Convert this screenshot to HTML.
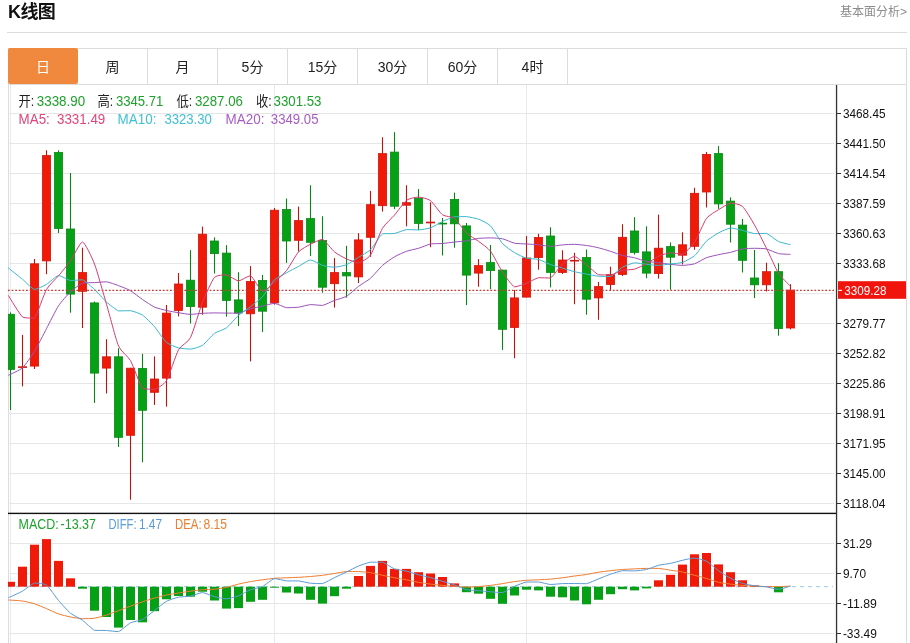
<!DOCTYPE html>
<html lang="zh-CN">
<head>
<meta charset="utf-8">
<title>K线图</title>
<style>
html,body{margin:0;padding:0;background:#fff;}
body{width:910px;height:643px;overflow:hidden;position:relative;font-family:"Liberation Sans","Noto Sans CJK SC",sans-serif;color:#222;}
.title{position:absolute;left:8px;top:0px;font-size:18px;font-weight:bold;line-height:24px;color:#111;letter-spacing:-0.6px;}
.more{position:absolute;right:3px;top:3px;font-size:12px;line-height:18px;color:#8c8c8c;}
.hr{position:absolute;left:7px;top:32px;width:900px;height:1px;background:#dcdcdc;}
.box{position:absolute;left:8px;top:48px;width:897px;height:600px;border:1px solid #dcdcdc;border-bottom:none;}
.tabs{position:absolute;left:8px;top:48px;width:899px;height:36px;border-bottom:1px solid #dcdcdc;box-sizing:content-box;}
.tab{position:absolute;top:0;width:69px;height:37px;line-height:38px;text-align:center;font-size:14px;color:#222;border-right:1px solid #dcdcdc;box-sizing:content-box;}
.tab.act{background:#f0883e;color:#fff;width:70px;height:35.5px;border-right:none;border-radius:2px;}
svg{position:absolute;left:0;top:0;}
</style>
</head>
<body>
<div class="title">K线图</div>
<div class="more">基本面分析&gt;</div>
<div class="hr"></div>
<div class="box"></div>
<div class="tabs"><div class="tab act" style="left:0px">日</div><div class="tab" style="left:70px">周</div><div class="tab" style="left:140px">月</div><div class="tab" style="left:210px">5分</div><div class="tab" style="left:280px">15分</div><div class="tab" style="left:350px">30分</div><div class="tab" style="left:420px">60分</div><div class="tab" style="left:490px">4时</div></div>
<svg width="910" height="643" viewBox="0 0 910 643">
<g stroke="#e6e6e6" stroke-width="1" shape-rendering="crispEdges">
<line x1="8" y1="113.5" x2="834" y2="113.5"/>
<line x1="8" y1="143.5" x2="834" y2="143.5"/>
<line x1="8" y1="173.5" x2="834" y2="173.5"/>
<line x1="8" y1="203.5" x2="834" y2="203.5"/>
<line x1="8" y1="233.5" x2="834" y2="233.5"/>
<line x1="8" y1="263.5" x2="834" y2="263.5"/>
<line x1="8" y1="293.5" x2="834" y2="293.5"/>
<line x1="8" y1="323.5" x2="834" y2="323.5"/>
<line x1="8" y1="353.5" x2="834" y2="353.5"/>
<line x1="8" y1="383.5" x2="834" y2="383.5"/>
<line x1="8" y1="413.5" x2="834" y2="413.5"/>
<line x1="8" y1="443.5" x2="834" y2="443.5"/>
<line x1="8" y1="473.5" x2="834" y2="473.5"/>
<line x1="8" y1="503.5" x2="834" y2="503.5"/>
<line x1="8" y1="543.5" x2="834" y2="543.5"/>
<line x1="8" y1="573.5" x2="834" y2="573.5"/>
<line x1="8" y1="603.5" x2="834" y2="603.5"/>
<line x1="8" y1="633.5" x2="834" y2="633.5"/>
</g>
<g stroke="#e4eaf1" stroke-width="1" shape-rendering="crispEdges">
<line x1="10.5" y1="85" x2="10.5" y2="643"/>
<line x1="274.5" y1="85" x2="274.5" y2="643"/>
<line x1="526.5" y1="85" x2="526.5" y2="643"/>
</g>
<line x1="10.5" y1="312.4" x2="10.5" y2="410" stroke="#0a8214" stroke-width="1.1"/>
<rect x="8.4" y="314.3" width="6.2" height="55.1" fill="#06a016" stroke="#088c12" stroke-width="0.8"/>
<line x1="22.5" y1="334.9" x2="22.5" y2="386.4" stroke="#b81410" stroke-width="1.1"/>
<rect x="18" y="366.3" width="9" height="1.6" fill="#d4160c"/>
<line x1="34.5" y1="259" x2="34.5" y2="369" stroke="#b81410" stroke-width="1.1"/>
<rect x="30.4" y="263.8" width="8.2" height="102.3" fill="#f01a08" stroke="#d4160c" stroke-width="0.8"/>
<line x1="46.5" y1="150.3" x2="46.5" y2="274.2" stroke="#b81410" stroke-width="1.1"/>
<rect x="42.4" y="155.6" width="8.2" height="105.3" fill="#f01a08" stroke="#d4160c" stroke-width="0.8"/>
<line x1="58.5" y1="150.3" x2="58.5" y2="233" stroke="#0a8214" stroke-width="1.1"/>
<rect x="54.4" y="152.4" width="8.2" height="76.2" fill="#06a016" stroke="#088c12" stroke-width="0.8"/>
<line x1="70.5" y1="173" x2="70.5" y2="312.7" stroke="#0a8214" stroke-width="1.1"/>
<rect x="66.4" y="229" width="8.2" height="65.1" fill="#06a016" stroke="#088c12" stroke-width="0.8"/>
<line x1="82.5" y1="247.7" x2="82.5" y2="328" stroke="#b81410" stroke-width="1.1"/>
<rect x="78.4" y="272.6" width="8.2" height="18.7" fill="#f01a08" stroke="#d4160c" stroke-width="0.8"/>
<line x1="94.5" y1="301.5" x2="94.5" y2="402.9" stroke="#0a8214" stroke-width="1.1"/>
<rect x="90.4" y="302.9" width="8.2" height="70.2" fill="#06a016" stroke="#088c12" stroke-width="0.8"/>
<line x1="106.5" y1="339.2" x2="106.5" y2="393.5" stroke="#b81410" stroke-width="1.1"/>
<rect x="102.4" y="356.8" width="8.2" height="11.3" fill="#f01a08" stroke="#d4160c" stroke-width="0.8"/>
<line x1="118.5" y1="348.3" x2="118.5" y2="447" stroke="#0a8214" stroke-width="1.1"/>
<rect x="114.4" y="356.8" width="8.2" height="80.5" fill="#06a016" stroke="#088c12" stroke-width="0.8"/>
<line x1="130.5" y1="367.8" x2="130.5" y2="499.7" stroke="#b81410" stroke-width="1.1"/>
<rect x="126.4" y="368.2" width="8.2" height="67.1" fill="#f01a08" stroke="#d4160c" stroke-width="0.8"/>
<line x1="142.5" y1="353.9" x2="142.5" y2="462.3" stroke="#0a8214" stroke-width="1.1"/>
<rect x="138.4" y="368.4" width="8.2" height="41.9" fill="#06a016" stroke="#088c12" stroke-width="0.8"/>
<line x1="154.5" y1="356.4" x2="154.5" y2="404.9" stroke="#b81410" stroke-width="1.1"/>
<rect x="150.4" y="379" width="8.2" height="13.3" fill="#f01a08" stroke="#d4160c" stroke-width="0.8"/>
<line x1="166.5" y1="305" x2="166.5" y2="406.6" stroke="#b81410" stroke-width="1.1"/>
<rect x="162.4" y="313.1" width="8.2" height="65" fill="#f01a08" stroke="#d4160c" stroke-width="0.8"/>
<line x1="178.5" y1="273" x2="178.5" y2="316.4" stroke="#b81410" stroke-width="1.1"/>
<rect x="174.4" y="284" width="8.2" height="26.5" fill="#f01a08" stroke="#d4160c" stroke-width="0.8"/>
<line x1="190.5" y1="250.2" x2="190.5" y2="323.5" stroke="#0a8214" stroke-width="1.1"/>
<rect x="186.4" y="280.2" width="8.2" height="26.4" fill="#06a016" stroke="#088c12" stroke-width="0.8"/>
<line x1="202.5" y1="226.6" x2="202.5" y2="314.7" stroke="#b81410" stroke-width="1.1"/>
<rect x="198.4" y="234.2" width="8.2" height="73" fill="#f01a08" stroke="#d4160c" stroke-width="0.8"/>
<line x1="214.5" y1="237.4" x2="214.5" y2="273.5" stroke="#0a8214" stroke-width="1.1"/>
<rect x="210.4" y="241" width="8.2" height="12.6" fill="#06a016" stroke="#088c12" stroke-width="0.8"/>
<line x1="226.5" y1="245.2" x2="226.5" y2="316.7" stroke="#0a8214" stroke-width="1.1"/>
<rect x="222.4" y="253.1" width="8.2" height="47.3" fill="#06a016" stroke="#088c12" stroke-width="0.8"/>
<line x1="238.5" y1="272.2" x2="238.5" y2="326.1" stroke="#0a8214" stroke-width="1.1"/>
<rect x="234.4" y="299.9" width="8.2" height="13.1" fill="#06a016" stroke="#088c12" stroke-width="0.8"/>
<line x1="250.5" y1="266.1" x2="250.5" y2="361.4" stroke="#b81410" stroke-width="1.1"/>
<rect x="246.4" y="281.5" width="8.2" height="32.3" fill="#f01a08" stroke="#d4160c" stroke-width="0.8"/>
<line x1="262.5" y1="275" x2="262.5" y2="331.9" stroke="#0a8214" stroke-width="1.1"/>
<rect x="258.4" y="280.4" width="8.2" height="30.8" fill="#06a016" stroke="#088c12" stroke-width="0.8"/>
<line x1="274.5" y1="208" x2="274.5" y2="304.6" stroke="#b81410" stroke-width="1.1"/>
<rect x="270.4" y="210.2" width="8.2" height="92.7" fill="#f01a08" stroke="#d4160c" stroke-width="0.8"/>
<line x1="286.5" y1="198.5" x2="286.5" y2="262.9" stroke="#0a8214" stroke-width="1.1"/>
<rect x="282.4" y="209.5" width="8.2" height="31.5" fill="#06a016" stroke="#088c12" stroke-width="0.8"/>
<line x1="298.5" y1="206.6" x2="298.5" y2="251.6" stroke="#b81410" stroke-width="1.1"/>
<rect x="294.4" y="220.6" width="8.2" height="19.7" fill="#f01a08" stroke="#d4160c" stroke-width="0.8"/>
<line x1="310.5" y1="185.3" x2="310.5" y2="256.1" stroke="#0a8214" stroke-width="1.1"/>
<rect x="306.4" y="218.6" width="8.2" height="23.7" fill="#06a016" stroke="#088c12" stroke-width="0.8"/>
<line x1="322.5" y1="216.2" x2="322.5" y2="292.7" stroke="#0a8214" stroke-width="1.1"/>
<rect x="318.4" y="240.5" width="8.2" height="46.7" fill="#06a016" stroke="#088c12" stroke-width="0.8"/>
<line x1="334.5" y1="258.1" x2="334.5" y2="307.6" stroke="#b81410" stroke-width="1.1"/>
<rect x="330.4" y="272.6" width="8.2" height="11.1" fill="#f01a08" stroke="#d4160c" stroke-width="0.8"/>
<line x1="346.5" y1="245.8" x2="346.5" y2="297.7" stroke="#0a8214" stroke-width="1.1"/>
<rect x="342.4" y="272.6" width="8.2" height="3.3" fill="#06a016" stroke="#088c12" stroke-width="0.8"/>
<line x1="358.5" y1="233.2" x2="358.5" y2="283.1" stroke="#b81410" stroke-width="1.1"/>
<rect x="354.4" y="239.9" width="8.2" height="37" fill="#f01a08" stroke="#d4160c" stroke-width="0.8"/>
<line x1="370.5" y1="190.9" x2="370.5" y2="256.8" stroke="#b81410" stroke-width="1.1"/>
<rect x="366.4" y="204.7" width="8.2" height="32.6" fill="#f01a08" stroke="#d4160c" stroke-width="0.8"/>
<line x1="382.5" y1="137.3" x2="382.5" y2="211.6" stroke="#b81410" stroke-width="1.1"/>
<rect x="378.4" y="153.6" width="8.2" height="52.1" fill="#f01a08" stroke="#d4160c" stroke-width="0.8"/>
<line x1="394.5" y1="132.2" x2="394.5" y2="209.1" stroke="#0a8214" stroke-width="1.1"/>
<rect x="390.4" y="152.1" width="8.2" height="54.1" fill="#06a016" stroke="#088c12" stroke-width="0.8"/>
<line x1="406.5" y1="185.3" x2="406.5" y2="226.3" stroke="#b81410" stroke-width="1.1"/>
<rect x="402.4" y="202.7" width="8.2" height="2.5" fill="#f01a08" stroke="#d4160c" stroke-width="0.8"/>
<line x1="418.5" y1="189.1" x2="418.5" y2="230.1" stroke="#0a8214" stroke-width="1.1"/>
<rect x="414.4" y="198.4" width="8.2" height="25" fill="#06a016" stroke="#088c12" stroke-width="0.8"/>
<line x1="430.5" y1="202.3" x2="430.5" y2="247.2" stroke="#b81410" stroke-width="1.1"/>
<rect x="426" y="221.7" width="9" height="1.6" fill="#d4160c"/>
<line x1="442.5" y1="218" x2="442.5" y2="255.5" stroke="#0a8214" stroke-width="1.1"/>
<rect x="438" y="222.8" width="9" height="1.6" fill="#088c12"/>
<line x1="454.5" y1="192.6" x2="454.5" y2="247.7" stroke="#0a8214" stroke-width="1.1"/>
<rect x="450.4" y="199.4" width="8.2" height="24.4" fill="#06a016" stroke="#088c12" stroke-width="0.8"/>
<line x1="466.5" y1="223" x2="466.5" y2="305.1" stroke="#0a8214" stroke-width="1.1"/>
<rect x="462.4" y="225.9" width="8.2" height="49.2" fill="#06a016" stroke="#088c12" stroke-width="0.8"/>
<line x1="478.5" y1="259.1" x2="478.5" y2="286.7" stroke="#b81410" stroke-width="1.1"/>
<rect x="474.4" y="265.6" width="8.2" height="7.5" fill="#f01a08" stroke="#d4160c" stroke-width="0.8"/>
<line x1="490.5" y1="245" x2="490.5" y2="289.2" stroke="#0a8214" stroke-width="1.1"/>
<rect x="486.4" y="262.6" width="8.2" height="8" fill="#06a016" stroke="#088c12" stroke-width="0.8"/>
<line x1="502.5" y1="269.7" x2="502.5" y2="349.9" stroke="#0a8214" stroke-width="1.1"/>
<rect x="498.4" y="270.1" width="8.2" height="59.2" fill="#06a016" stroke="#088c12" stroke-width="0.8"/>
<line x1="514.5" y1="290" x2="514.5" y2="358.2" stroke="#b81410" stroke-width="1.1"/>
<rect x="510.4" y="297.9" width="8.2" height="29.6" fill="#f01a08" stroke="#d4160c" stroke-width="0.8"/>
<line x1="526.5" y1="236.1" x2="526.5" y2="297.5" stroke="#b81410" stroke-width="1.1"/>
<rect x="522.4" y="258" width="8.2" height="39.1" fill="#f01a08" stroke="#d4160c" stroke-width="0.8"/>
<line x1="538.5" y1="233.8" x2="538.5" y2="269.7" stroke="#b81410" stroke-width="1.1"/>
<rect x="534.4" y="237.5" width="8.2" height="20" fill="#f01a08" stroke="#d4160c" stroke-width="0.8"/>
<line x1="550.5" y1="227.3" x2="550.5" y2="287.4" stroke="#0a8214" stroke-width="1.1"/>
<rect x="546.4" y="236" width="8.2" height="36.4" fill="#06a016" stroke="#088c12" stroke-width="0.8"/>
<line x1="562.5" y1="250.3" x2="562.5" y2="274" stroke="#b81410" stroke-width="1.1"/>
<rect x="558.4" y="260" width="8.2" height="12.4" fill="#f01a08" stroke="#d4160c" stroke-width="0.8"/>
<line x1="574.5" y1="252.8" x2="574.5" y2="304.2" stroke="#b81410" stroke-width="1.1"/>
<rect x="570" y="259.9" width="9" height="1.6" fill="#d4160c"/>
<line x1="586.5" y1="249.5" x2="586.5" y2="314.7" stroke="#0a8214" stroke-width="1.1"/>
<rect x="582.4" y="257.5" width="8.2" height="41.7" fill="#06a016" stroke="#088c12" stroke-width="0.8"/>
<line x1="598.5" y1="281.9" x2="598.5" y2="319.8" stroke="#b81410" stroke-width="1.1"/>
<rect x="594.4" y="286.6" width="8.2" height="11.3" fill="#f01a08" stroke="#d4160c" stroke-width="0.8"/>
<line x1="610.5" y1="266.7" x2="610.5" y2="290.5" stroke="#b81410" stroke-width="1.1"/>
<rect x="606.4" y="274.7" width="8.2" height="9.8" fill="#f01a08" stroke="#d4160c" stroke-width="0.8"/>
<line x1="622.5" y1="224.2" x2="622.5" y2="276" stroke="#b81410" stroke-width="1.1"/>
<rect x="618.4" y="237.3" width="8.2" height="37.1" fill="#f01a08" stroke="#d4160c" stroke-width="0.8"/>
<line x1="634.5" y1="217.2" x2="634.5" y2="254.6" stroke="#0a8214" stroke-width="1.1"/>
<rect x="630.4" y="231" width="8.2" height="21.4" fill="#06a016" stroke="#088c12" stroke-width="0.8"/>
<line x1="646.5" y1="226.3" x2="646.5" y2="278.1" stroke="#0a8214" stroke-width="1.1"/>
<rect x="642.4" y="251.9" width="8.2" height="21.2" fill="#06a016" stroke="#088c12" stroke-width="0.8"/>
<line x1="658.5" y1="214.6" x2="658.5" y2="278.6" stroke="#b81410" stroke-width="1.1"/>
<rect x="654.4" y="248.2" width="8.2" height="25.4" fill="#f01a08" stroke="#d4160c" stroke-width="0.8"/>
<line x1="670.5" y1="242.4" x2="670.5" y2="289.7" stroke="#0a8214" stroke-width="1.1"/>
<rect x="666.4" y="246.6" width="8.2" height="10.6" fill="#06a016" stroke="#088c12" stroke-width="0.8"/>
<line x1="682.5" y1="232.3" x2="682.5" y2="264.5" stroke="#b81410" stroke-width="1.1"/>
<rect x="678.4" y="244.8" width="8.2" height="10.4" fill="#f01a08" stroke="#d4160c" stroke-width="0.8"/>
<line x1="694.5" y1="187.8" x2="694.5" y2="249.8" stroke="#b81410" stroke-width="1.1"/>
<rect x="690.4" y="193.3" width="8.2" height="53" fill="#f01a08" stroke="#d4160c" stroke-width="0.8"/>
<line x1="706.5" y1="151.9" x2="706.5" y2="207.5" stroke="#b81410" stroke-width="1.1"/>
<rect x="702.4" y="154.4" width="8.2" height="37.6" fill="#f01a08" stroke="#d4160c" stroke-width="0.8"/>
<line x1="718.5" y1="146.1" x2="718.5" y2="208.8" stroke="#0a8214" stroke-width="1.1"/>
<rect x="714.4" y="153.6" width="8.2" height="50.3" fill="#06a016" stroke="#088c12" stroke-width="0.8"/>
<line x1="730.5" y1="197.4" x2="730.5" y2="242.5" stroke="#0a8214" stroke-width="1.1"/>
<rect x="726.4" y="201.1" width="8.2" height="23.1" fill="#06a016" stroke="#088c12" stroke-width="0.8"/>
<line x1="742.5" y1="219" x2="742.5" y2="272.5" stroke="#0a8214" stroke-width="1.1"/>
<rect x="738.4" y="225.1" width="8.2" height="35.2" fill="#06a016" stroke="#088c12" stroke-width="0.8"/>
<line x1="754.5" y1="250" x2="754.5" y2="298.1" stroke="#0a8214" stroke-width="1.1"/>
<rect x="750.4" y="278" width="8.2" height="6.8" fill="#06a016" stroke="#088c12" stroke-width="0.8"/>
<line x1="766.5" y1="262.7" x2="766.5" y2="291.5" stroke="#b81410" stroke-width="1.1"/>
<rect x="762.4" y="271.7" width="8.2" height="13.1" fill="#f01a08" stroke="#d4160c" stroke-width="0.8"/>
<line x1="778.5" y1="263.2" x2="778.5" y2="335.7" stroke="#0a8214" stroke-width="1.1"/>
<rect x="774.4" y="271.7" width="8.2" height="56.8" fill="#06a016" stroke="#088c12" stroke-width="0.8"/>
<line x1="790.5" y1="284.2" x2="790.5" y2="329.4" stroke="#b81410" stroke-width="1.1"/>
<rect x="786.4" y="290.1" width="8.2" height="37.9" fill="#f01a08" stroke="#d4160c" stroke-width="0.8"/>
<line x1="8" y1="290.4" x2="834" y2="290.4" stroke="#c83a30" stroke-width="1.1" stroke-dasharray="1.8 1.8"/>
<path d="M8.3 375.3C9.7 374.6 19.9 370.2 22.5 367.8C25.1 365.4 32.1 355.2 34.5 351.3C36.9 347.4 44.1 333.2 46.5 328.6C48.9 324.1 56.1 309.5 58.5 305.8C60.9 302.1 68.1 294.2 70.5 291.9C72.9 289.6 80.1 284 82.5 283.1C84.9 282.6 92.1 282.7 94.5 282.6C96.9 282.5 104.1 281.8 106.5 281.8C108.9 282.1 116.1 284.7 118.5 285.6C120.9 286.5 128.1 289.3 130.5 290.7C132.9 292.1 140.1 297.9 142.5 299.5C144.9 301.1 152.1 306 154.5 307.1C156.9 308.2 164.1 309.9 166.5 310.5C168.9 311.1 176.1 312.3 178.5 312.7C180.9 313.1 188.1 314.3 190.5 314.4C192.9 314.4 200.1 313.4 202.5 313.3C204.9 313.2 212.1 312.9 214.5 312.9C216.9 312.9 224.1 313.1 226.5 313.1C228.9 313.1 236.1 313.2 238.5 313.2C240.9 312.8 248.1 309.5 250.5 308.8C252.9 308.1 260.1 306.6 262.5 306.1C264.9 305.5 272.1 303.4 274.5 303.4C276.9 303.5 284.1 307.3 286.5 307.7C288.9 307.7 296.1 307.5 298.5 307.2C300.9 306.9 308.1 304.8 310.5 304.6C312.9 304.6 320.1 305.4 322.5 305.4C324.9 305 332.1 301.3 334.5 300.4C336.9 299.4 344.1 297.7 346.5 296.3C348.9 295 356.1 288.2 358.5 286.4C360.9 284.6 368.1 280.4 370.5 278.3C372.9 276.2 380.1 267.5 382.5 265.4C384.9 263.2 392.1 258.2 394.5 256.8C396.9 255.4 404.1 252.1 406.5 251.3C408.9 250.4 416.1 249 418.5 248.3C420.9 247.6 428.1 244.5 430.5 244C432.9 243.5 440.1 243.7 442.5 243.5C444.9 243.3 452.1 242.3 454.5 242C456.9 241.8 464.1 241.2 466.5 240.8C468.9 240.4 476.1 238.7 478.5 238.4C480.9 238.1 488.1 237.9 490.5 237.9C492.9 237.9 500.1 238.2 502.5 238.8C504.9 239.3 512.1 242.6 514.5 243.2C516.9 243.7 524.1 243.8 526.5 244C528.9 244.1 536.1 244.6 538.5 244.8C540.9 245.1 548.1 246.3 550.5 246.3C552.9 246.3 560.1 245.1 562.5 244.9C564.9 244.7 572.1 244.3 574.5 244.3C576.9 244.4 584.1 245.1 586.5 245.5C588.9 245.8 596.1 247.2 598.5 247.8C600.9 248.4 608.1 250.5 610.5 251.3C612.9 252.1 620.1 254.8 622.5 255.5C624.9 256.1 632.1 257.2 634.5 257.8C636.9 258.4 644.1 260.9 646.5 261.4C648.9 261.8 656.1 262.3 658.5 262.6C660.9 262.9 668.1 264.1 670.5 264.4C672.9 264.6 680.1 265.4 682.5 265.4C684.9 265.3 692.1 264.6 694.5 263.8C696.9 263 704.1 258.6 706.5 257.7C708.9 256.8 716.1 255.2 718.5 254.7C720.9 254.1 728.1 252.9 730.5 252.4C732.9 251.8 740.1 249.3 742.5 248.9C744.9 248.5 752.1 248.3 754.5 248.3C756.9 248.3 764.1 248.4 766.5 249C768.9 249.5 776.1 253 778.5 253.6C780.9 254.1 789.3 254.3 790.5 254.4" fill="none" stroke="#9a52ba" stroke-width="1" stroke-linejoin="round"/>
<path d="M8.3 267.9C9.7 269 19.9 277.2 22.5 279.3C25.1 281.4 32.1 288.9 34.5 289.4C36.9 289.4 44.1 285.7 46.5 284.3C48.9 282.9 56.1 275.9 58.5 275.5C60.9 275.5 68.1 280.2 70.5 280.6C72.9 280.6 80.1 279.8 82.5 279.8C84.9 280.7 92.1 287.2 94.5 289.4C96.9 291.6 104.1 299.9 106.5 302C108.9 304.1 116.1 310 118.5 310.9C120.9 310.9 128.1 310.7 130.5 310.7C132.9 311.1 140.1 313.5 142.5 315.1C144.9 316.7 152.1 323.9 154.5 326.7C156.9 329.4 164.1 340.3 166.5 342.4C168.9 344.5 176.1 347.2 178.5 347.9C180.9 348.5 188.1 349.1 190.5 349.1C192.9 348.9 200.1 346.9 202.5 345.3C204.9 343.7 212.1 335.1 214.5 333.3C216.9 331.6 224.1 329.6 226.5 327.8C228.9 326 236.1 317.5 238.5 315.3C240.9 313.2 248.1 308.5 250.5 306.7C252.9 304.8 260.1 299.4 262.5 296.8C264.9 294.1 272.1 282.3 274.5 279.9C276.9 277.5 284.1 274.1 286.5 272.8C288.9 271.4 296.1 267.7 298.5 266.4C300.9 265.1 308.1 260.1 310.5 260C312.9 260 320.1 264.6 322.5 265.4C324.9 266.1 332.1 267.2 334.5 267.2C336.9 267.1 344.1 265.7 346.5 264.7C348.9 263.7 356.1 258.8 358.5 257.3C360.9 255.8 368.1 252 370.5 249.7C372.9 247.3 380.1 235.4 382.5 233.8C384.9 233.5 392.1 233.8 394.5 233.5C396.9 233.1 404.1 229.9 406.5 229.6C408.9 229.6 416.1 229.9 418.5 229.9C420.9 229.8 428.1 228.7 430.5 227.8C432.9 227 440.1 222.6 442.5 221.5C444.9 220.4 452.1 217.2 454.5 216.7C456.9 216.6 464.1 216.6 466.5 216.6C468.9 216.9 476.1 218.3 478.5 219.2C480.9 220.1 488.1 223.4 490.5 225.9C492.9 228.3 500.1 240.9 502.5 243.5C504.9 246.2 512.1 251.2 514.5 252.6C516.9 254.1 524.1 257.5 526.5 258.2C528.9 258.8 536.1 258.8 538.5 259.5C540.9 260.1 548.1 263.7 550.5 264.6C552.9 265.5 560.1 267.4 562.5 268.1C564.9 268.8 572.1 271.1 574.5 271.7C576.9 272.3 584.1 273.6 586.5 274.1C588.9 274.6 596.1 276 598.5 276.2C600.9 276.4 608.1 276.5 610.5 276.5C612.9 275.6 620.1 268.6 622.5 267.2C624.9 265.9 632.1 263.1 634.5 262.8C636.9 262.8 644.1 264.1 646.5 264.4C648.9 264.6 656.1 265.4 658.5 265.4C660.9 265.4 668.1 264.2 670.5 263.9C672.9 263.6 680.1 263.2 682.5 262.4C684.9 261.6 692.1 257.8 694.5 255.7C696.9 253.6 704.1 243.4 706.5 241.1C708.9 238.9 716.1 234.3 718.5 232.9C720.9 231.6 728.1 228.2 730.5 228C732.9 228 740.1 229.8 742.5 230.4C744.9 230.9 752.1 233.3 754.5 233.6C756.9 233.6 764.1 233.4 766.5 233.4C768.9 234.2 776.1 240.4 778.5 241.5C780.9 242.6 789.3 244.4 790.5 244.7" fill="none" stroke="#3ab9cd" stroke-width="1" stroke-linejoin="round"/>
<path d="M8.3 295.4C9.7 297.6 19.9 314.7 22.5 317C25.1 318.2 32.1 318.2 34.5 318.2C36.9 315.4 44.1 293.6 46.5 289.4C48.9 285.2 56.1 278.7 58.5 275.8C60.9 273 68.1 264.2 70.5 260.8C72.9 257.4 80.1 242 82.5 242C84.9 242.3 92.1 257.8 94.5 264C96.9 270.2 104.1 296 106.5 304.2C108.9 312.4 116.1 340.3 118.5 346C120.9 351.6 128.1 356.4 130.5 360.6C132.9 364.9 140.1 385.4 142.5 388.3C144.9 389.3 152.1 389.3 154.5 389.3C156.9 388.6 164.1 384.6 166.5 380.6C168.9 376.6 176.1 354.1 178.5 349.8C180.9 345.5 188.1 342.4 190.5 337.6C192.9 332.9 200.1 308.3 202.5 302.2C204.9 296.2 212.1 280.1 214.5 277.3C216.9 274.9 224.1 274.9 226.5 274.9C228.9 275.3 236.1 280.8 238.5 280.9C240.9 280.9 248.1 275.7 250.5 275.7C252.9 276.8 260.1 290.6 262.5 291.3C264.9 291.3 272.1 284.5 274.5 282.4C276.9 280.4 284.1 273.6 286.5 270.6C288.9 267.5 296.1 254.6 298.5 251.9C300.9 249.3 308.1 245.5 310.5 244.2C312.9 243 320.1 239.4 322.5 239.4C324.9 240.2 332.1 250 334.5 251.9C336.9 253.9 344.1 257.8 346.5 258.9C348.9 260 356.1 262.8 358.5 262.8C360.9 262.4 368.1 258.5 370.5 255.1C372.9 251.6 380.1 232.2 382.5 228.2C384.9 224.2 392.1 217.9 394.5 215.1C396.9 212.3 404.1 202.1 406.5 200.3C408.9 198.5 416.1 197.1 418.5 197.1C420.9 197.2 428.1 198.8 430.5 200.6C432.9 202.4 440.1 213.1 442.5 214.8C444.9 216.6 452.1 216.5 454.5 218.4C456.9 220.2 464.1 230.7 466.5 233C468.9 235.3 476.1 239.5 478.5 241.3C480.9 243.1 488.1 248 490.5 251.1C492.9 254.2 500.1 268.6 502.5 272.2C504.9 275.8 512.1 285.8 514.5 286.9C516.9 286.9 524.1 284.2 526.5 283.3C528.9 282.4 536.1 278.2 538.5 277.7C540.9 277.7 548.1 278 550.5 278C552.9 276.7 560.1 266.2 562.5 264C564.9 261.9 572.1 256.5 574.5 256.5C576.9 256.6 584.1 263.1 586.5 264.9C588.9 266.7 596.1 273.7 598.5 274.7C600.9 275 608.1 275 610.5 275C612.9 274.6 620.1 271.1 622.5 270.5C624.9 269.9 632.1 269.7 634.5 269.1C636.9 268.4 644.1 265.1 646.5 263.8C648.9 262.6 656.1 257.3 658.5 256.2C660.9 255.1 668.1 253 670.5 252.8C672.9 252.8 680.1 254.3 682.5 254.3C684.9 253.3 692.1 245.9 694.5 242.3C696.9 238.8 704.1 221.7 706.5 218.4C708.9 215.2 716.1 211.3 718.5 209.7C720.9 208.2 728.1 203.5 730.5 203.1C732.9 203.1 740.1 204.2 742.5 206.4C744.9 208.6 752.1 220.7 754.5 224.9C756.9 229.1 764.1 243.5 766.5 248.3C768.9 253.2 776.1 269.4 778.5 273.2C780.9 277 789.3 285 790.5 286.3" fill="none" stroke="#d63c74" stroke-width="1" stroke-linejoin="round"/>
<line x1="8" y1="586.7" x2="833" y2="586.7" stroke="#9ccbe0" stroke-width="1" stroke-dasharray="4 4"/>
<rect x="8" y="581.8" width="7" height="4.9" fill="#f01a08"/>
<rect x="18" y="566.7" width="9" height="20" fill="#f01a08"/>
<rect x="30" y="544.7" width="9" height="42" fill="#f01a08"/>
<rect x="42" y="539.1" width="9" height="47.6" fill="#f01a08"/>
<rect x="54" y="560.9" width="9" height="25.8" fill="#f01a08"/>
<rect x="66" y="578.3" width="9" height="8.4" fill="#f01a08"/>
<rect x="78" y="586.7" width="9" height="2" fill="#06a016"/>
<rect x="90" y="586.7" width="9" height="24" fill="#06a016"/>
<rect x="102" y="586.7" width="9" height="30.3" fill="#06a016"/>
<rect x="114" y="586.7" width="9" height="40.9" fill="#06a016"/>
<rect x="126" y="586.7" width="9" height="33.3" fill="#06a016"/>
<rect x="138" y="586.7" width="9" height="35.6" fill="#06a016"/>
<rect x="150" y="586.7" width="9" height="24.5" fill="#06a016"/>
<rect x="162" y="586.7" width="9" height="12.6" fill="#06a016"/>
<rect x="174" y="586.7" width="9" height="9.3" fill="#06a016"/>
<rect x="186" y="586.7" width="9" height="10" fill="#06a016"/>
<rect x="198" y="586.7" width="9" height="5" fill="#06a016"/>
<rect x="210" y="586.7" width="9" height="13.8" fill="#06a016"/>
<rect x="222" y="586.7" width="9" height="21.9" fill="#06a016"/>
<rect x="234" y="586.7" width="9" height="21.4" fill="#06a016"/>
<rect x="246" y="586.7" width="9" height="15.1" fill="#06a016"/>
<rect x="258" y="586.7" width="9" height="13.1" fill="#06a016"/>
<rect x="270" y="586.7" width="9" height="1" fill="#06a016"/>
<rect x="282" y="586.7" width="9" height="5.8" fill="#06a016"/>
<rect x="294" y="586.7" width="9" height="6.8" fill="#06a016"/>
<rect x="306" y="586.7" width="9" height="13.1" fill="#06a016"/>
<rect x="318" y="586.7" width="9" height="16.9" fill="#06a016"/>
<rect x="330" y="586.7" width="9" height="9.5" fill="#06a016"/>
<rect x="342" y="586.7" width="9" height="2" fill="#06a016"/>
<rect x="354" y="576" width="9" height="10.7" fill="#f01a08"/>
<rect x="366" y="565.9" width="9" height="20.8" fill="#f01a08"/>
<rect x="378" y="560.9" width="9" height="25.8" fill="#f01a08"/>
<rect x="390" y="568.9" width="9" height="17.8" fill="#f01a08"/>
<rect x="402" y="568.9" width="9" height="17.8" fill="#f01a08"/>
<rect x="414" y="572.2" width="9" height="14.5" fill="#f01a08"/>
<rect x="426" y="573.5" width="9" height="13.2" fill="#f01a08"/>
<rect x="438" y="577" width="9" height="9.7" fill="#f01a08"/>
<rect x="450" y="583.4" width="9" height="3.3" fill="#f01a08"/>
<rect x="462" y="586.7" width="9" height="5.5" fill="#06a016"/>
<rect x="474" y="586.7" width="9" height="7" fill="#06a016"/>
<rect x="486" y="586.7" width="9" height="12.1" fill="#06a016"/>
<rect x="498" y="586.7" width="9" height="17.1" fill="#06a016"/>
<rect x="510" y="586.7" width="9" height="8.8" fill="#06a016"/>
<rect x="522" y="586.7" width="9" height="3" fill="#06a016"/>
<rect x="534" y="586.7" width="9" height="3.7" fill="#06a016"/>
<rect x="546" y="586.7" width="9" height="10" fill="#06a016"/>
<rect x="558" y="586.7" width="9" height="10.6" fill="#06a016"/>
<rect x="570" y="586.7" width="9" height="13.8" fill="#06a016"/>
<rect x="582" y="586.7" width="9" height="17.6" fill="#06a016"/>
<rect x="594" y="586.7" width="9" height="13.1" fill="#06a016"/>
<rect x="606" y="586.7" width="9" height="7.5" fill="#06a016"/>
<rect x="618" y="586.7" width="9" height="2.5" fill="#06a016"/>
<rect x="630" y="586.7" width="9" height="3.7" fill="#06a016"/>
<rect x="642" y="586.7" width="9" height="1.7" fill="#06a016"/>
<rect x="654" y="580.3" width="9" height="6.4" fill="#f01a08"/>
<rect x="666" y="574.8" width="9" height="11.9" fill="#f01a08"/>
<rect x="678" y="564.6" width="9" height="22.1" fill="#f01a08"/>
<rect x="690" y="554.3" width="9" height="32.4" fill="#f01a08"/>
<rect x="702" y="553" width="9" height="33.7" fill="#f01a08"/>
<rect x="714" y="564.4" width="9" height="22.3" fill="#f01a08"/>
<rect x="726" y="572.2" width="9" height="14.5" fill="#f01a08"/>
<rect x="738" y="580.3" width="9" height="6.4" fill="#f01a08"/>
<rect x="750" y="585.4" width="9" height="1.3" fill="#f01a08"/>
<rect x="762" y="586.2" width="9" height="0.5" fill="#f01a08"/>
<rect x="774" y="586.7" width="9" height="5.6" fill="#06a016"/>
<path d="M8.3 600C9.7 600.1 19.9 600.6 22.5 601C25.1 601.4 32.1 603 34.5 603.8C36.9 604.6 44.1 607.6 46.5 608.6C48.9 609.6 56.1 613.1 58.5 613.9C60.9 614.7 68.1 616.5 70.5 617C72.9 617.5 80.1 618.6 82.5 618.7C84.9 618.7 92.1 618.6 94.5 618.2C96.9 617.8 104.1 615.8 106.5 615C108.9 614.2 116.1 611.6 118.5 610.7C120.9 609.8 128.1 607 130.5 606.1C132.9 605.2 140.1 602.6 142.5 601.8C144.9 601 152.1 598.7 154.5 598C156.9 597.3 164.1 595.5 166.5 595C168.9 594.5 176.1 593.4 178.5 593C180.9 592.6 188.1 591.5 190.5 591.2C192.9 590.9 200.1 589.9 202.5 589.7C204.9 589.5 212.1 589.4 214.5 589.2C216.9 589 224.1 587.9 226.5 587.4C228.9 586.9 236.1 584.7 238.5 584.1C240.9 583.5 248.1 582 250.5 581.6C252.9 581.2 260.1 580.1 262.5 579.8C264.9 579.5 272.1 578.5 274.5 578.3C276.9 578.1 284.1 577.9 286.5 577.8C288.9 577.7 296.1 577.4 298.5 577.3C300.9 577.2 308.1 576.7 310.5 576.5C312.9 576.3 320.1 575.6 322.5 575.3C324.9 575 332.1 573.9 334.5 573.5C336.9 573.1 344.1 571.7 346.5 571.5C348.9 571.5 356.1 571.5 358.5 571.5C360.9 571.6 368.1 572.3 370.5 572.7C372.9 573.1 380.1 574.8 382.5 575.3C384.9 575.8 392.1 577.3 394.5 577.8C396.9 578.2 404.1 579.3 406.5 579.8C408.9 580.2 416.1 581.9 418.5 582.3C420.9 582.7 428.1 583.8 430.5 584.1C432.9 584.4 440.1 585.2 442.5 585.4C444.9 585.6 452.1 585.9 454.5 586.1C456.9 586.3 464.1 587.1 466.5 587.1C468.9 587.1 476.1 586.8 478.5 586.6C480.9 586.4 488.1 585.7 490.5 585.4C492.9 585.1 500.1 584 502.5 583.6C504.9 583.2 512.1 581.9 514.5 581.6C516.9 581.3 524.1 580.5 526.5 580.3C528.9 580.1 536.1 579.9 538.5 579.8C540.9 579.7 548.1 579.3 550.5 579.1C552.9 578.9 560.1 578.1 562.5 577.8C564.9 577.5 572.1 576.3 574.5 576C576.9 575.7 584.1 574.9 586.5 574.5C588.9 574.1 596.1 572.6 598.5 572.2C600.9 571.8 608.1 571 610.5 570.7C612.9 570.4 620.1 569.7 622.5 569.5C624.9 569.3 632.1 569 634.5 568.9C636.9 568.8 644.1 568.4 646.5 568.4C648.9 568.4 656.1 568.4 658.5 568.4C660.9 568.6 668.1 569.8 670.5 570.2C672.9 570.6 680.1 571.5 682.5 572C684.9 572.5 692.1 574.6 694.5 575.3C696.9 575.9 704.1 577.8 706.5 578.5C708.9 579.2 716.1 581.7 718.5 582.3C720.9 582.9 728.1 583.8 730.5 584.1C732.9 584.4 740.1 585.2 742.5 585.4C744.9 585.6 752.1 586 754.5 586.1C756.9 586.2 764.1 586.6 766.5 586.6C768.9 586.6 776.1 586.6 778.5 586.6C780.9 586.6 789.3 586.1 790.5 586.1" fill="none" stroke="#ed7d31" stroke-width="1" stroke-linejoin="round"/>
<path d="M8.3 597.8C9.7 597.1 19.9 592.6 22.5 591.1C25.1 589.6 32.1 583.7 34.5 583.1C36.9 583.1 44.1 583.4 46.5 585.1C48.9 586.8 56.1 597.6 58.5 600.4C60.9 603.2 68.1 611.3 70.5 613.2C72.9 615.2 80.1 618.5 82.5 620.2C84.9 622 92.1 629.3 94.5 630.3C96.9 630.5 104.1 630.4 106.5 630.5C108.9 630.7 116.1 631.6 118.5 631.6C120.9 630.9 128.1 624 130.5 622.8C132.9 621.6 140.1 620.8 142.5 619.5C144.9 618.3 152.1 612.3 154.5 610.5C156.9 608.6 164.1 602.6 166.5 601.3C168.9 600 176.1 597.7 178.5 597.2C180.9 596.7 188.1 596.6 190.5 596.1C192.9 595.6 200.1 592.6 202.5 592.6C204.9 592.7 212.1 596.1 214.5 596.7C216.9 597.3 224.1 598.8 226.5 598.8C228.9 598.7 236.1 596.7 238.5 595.8C240.9 594.8 248.1 590.7 250.5 589.8C252.9 588.8 260.1 587.6 262.5 586.5C264.9 585.4 272.1 579.1 274.5 578.6C276.9 578.6 284.1 580.7 286.5 580.9C288.9 580.9 296.1 580.9 298.5 580.9C300.9 581.1 308.1 583 310.5 583.2C312.9 583.5 320.1 583.6 322.5 583.6C324.9 583 332.1 578.8 334.5 577.6C336.9 576.5 344.1 573.2 346.5 572C348.9 570.8 356.1 567 358.5 566C360.9 565 368.1 562.6 370.5 562.2C372.9 562.2 380.1 562.2 382.5 562.2C384.9 562.9 392.1 568 394.5 568.9C396.9 569.8 404.1 570.6 406.5 571.2C408.9 571.8 416.1 574.1 418.5 574.8C420.9 575.4 428.1 577 430.5 577.6C432.9 578.3 440.1 580.6 442.5 581.3C444.9 582.1 452.1 584.1 454.5 584.9C456.9 585.8 464.1 589.2 466.5 589.8C468.9 590.3 476.1 590.4 478.5 590.7C480.9 590.9 488.1 591.6 490.5 591.8C492.9 592 500.1 592.6 502.5 592.6C504.9 592 512.1 587.4 514.5 586.3C516.9 585.2 524.1 582.4 526.5 582C528.9 582 536.1 582 538.5 582C540.9 582.2 548.1 584.3 550.5 584.5C552.9 584.5 560.1 583.7 562.5 583.6C564.9 583.5 572.1 583.5 574.5 583.5C576.9 583.5 584.1 583.7 586.5 583.7C588.9 583.2 596.1 579.9 598.5 578.9C600.9 578 608.1 575 610.5 574.2C612.9 573.4 620.1 571.1 622.5 570.7C624.9 570.7 632.1 570.9 634.5 570.9C636.9 570.8 644.1 570 646.5 569.5C648.9 568.9 656.1 566 658.5 565.3C660.9 564.7 668.1 563.9 670.5 563.4C672.9 562.9 680.1 560.8 682.5 560.3C684.9 559.7 692.1 558.1 694.5 558.1C696.9 558.2 704.1 560 706.5 561.3C708.9 562.5 716.1 569 718.5 570.7C720.9 572.4 728.1 577 730.5 578.2C732.9 579.5 740.1 582.6 742.5 583.4C744.9 584.2 752.1 585.4 754.5 585.8C756.9 586.1 764.1 586.5 766.5 586.9C768.9 587.2 776.1 589.3 778.5 589.3C780.9 589.2 789.3 586.4 790.5 586.1" fill="none" stroke="#5b9bd5" stroke-width="1" stroke-linejoin="round"/>
<rect x="8" y="512.7" width="829" height="1.4" fill="#111"/>
<rect x="835.9" y="85" width="1.3" height="558" fill="#333"/>
<g stroke="#333" stroke-width="1" shape-rendering="crispEdges">
<line x1="837" y1="113.5" x2="841" y2="113.5"/>
<line x1="837" y1="143.5" x2="841" y2="143.5"/>
<line x1="837" y1="173.5" x2="841" y2="173.5"/>
<line x1="837" y1="203.5" x2="841" y2="203.5"/>
<line x1="837" y1="233.5" x2="841" y2="233.5"/>
<line x1="837" y1="263.5" x2="841" y2="263.5"/>
<line x1="837" y1="323.5" x2="841" y2="323.5"/>
<line x1="837" y1="353.5" x2="841" y2="353.5"/>
<line x1="837" y1="383.5" x2="841" y2="383.5"/>
<line x1="837" y1="413.5" x2="841" y2="413.5"/>
<line x1="837" y1="443.5" x2="841" y2="443.5"/>
<line x1="837" y1="473.5" x2="841" y2="473.5"/>
<line x1="837" y1="503.5" x2="841" y2="503.5"/>
<line x1="837" y1="543.5" x2="841" y2="543.5"/>
<line x1="837" y1="573.5" x2="841" y2="573.5"/>
<line x1="837" y1="603.5" x2="841" y2="603.5"/>
<line x1="837" y1="633.5" x2="841" y2="633.5"/>
</g>
<g font-family="'Liberation Sans', sans-serif" font-size="12.4" fill="#111">
<text x="842.9" y="117.6" textLength="42.6" lengthAdjust="spacingAndGlyphs">3468.45</text>
<text x="842.9" y="147.6" textLength="42.6" lengthAdjust="spacingAndGlyphs">3441.50</text>
<text x="842.9" y="177.6" textLength="42.6" lengthAdjust="spacingAndGlyphs">3414.54</text>
<text x="842.9" y="207.6" textLength="42.6" lengthAdjust="spacingAndGlyphs">3387.59</text>
<text x="842.9" y="237.6" textLength="42.6" lengthAdjust="spacingAndGlyphs">3360.63</text>
<text x="842.9" y="267.6" textLength="42.6" lengthAdjust="spacingAndGlyphs">3333.68</text>
<text x="842.9" y="327.6" textLength="42.6" lengthAdjust="spacingAndGlyphs">3279.77</text>
<text x="842.9" y="357.6" textLength="42.6" lengthAdjust="spacingAndGlyphs">3252.82</text>
<text x="842.9" y="387.6" textLength="42.6" lengthAdjust="spacingAndGlyphs">3225.86</text>
<text x="842.9" y="417.6" textLength="42.6" lengthAdjust="spacingAndGlyphs">3198.91</text>
<text x="842.9" y="447.6" textLength="42.6" lengthAdjust="spacingAndGlyphs">3171.95</text>
<text x="842.9" y="477.6" textLength="42.6" lengthAdjust="spacingAndGlyphs">3145.00</text>
<text x="842.9" y="507.6" textLength="42.6" lengthAdjust="spacingAndGlyphs">3118.04</text>
<text x="842.9" y="547.9" textLength="29.1" lengthAdjust="spacingAndGlyphs">31.29</text>
<text x="842.9" y="577.8" textLength="23.1" lengthAdjust="spacingAndGlyphs">9.70</text>
<text x="842.9" y="607.8" textLength="33.9" lengthAdjust="spacingAndGlyphs">-11.89</text>
<text x="842.9" y="637.7" textLength="33.9" lengthAdjust="spacingAndGlyphs">-33.49</text>
</g>
<rect x="838" y="281.2" width="68" height="17.6" fill="#f0140c"/>
<rect x="838.5" y="289.8" width="3.4" height="1.2" fill="#fff"/>
<text x="844.3" y="294.6" font-family="'Liberation Sans', sans-serif" font-size="12.4" fill="#fff" textLength="42.2" lengthAdjust="spacingAndGlyphs">3309.28</text>
<g font-family="'Liberation Sans', 'Noto Sans CJK SC', sans-serif" font-size="14.2">
<text x="18.5" y="106.3" fill="#222" textLength="15.8" lengthAdjust="spacingAndGlyphs">开:</text>
<text x="36.8" y="106.3" fill="#1fa12e" textLength="48.3" lengthAdjust="spacingAndGlyphs">3338.90</text>
<text x="97.5" y="106.3" fill="#222" textLength="15.8" lengthAdjust="spacingAndGlyphs">高:</text>
<text x="115.9" y="106.3" fill="#1fa12e" textLength="47.5" lengthAdjust="spacingAndGlyphs">3345.71</text>
<text x="176.5" y="106.3" fill="#222" textLength="15.8" lengthAdjust="spacingAndGlyphs">低:</text>
<text x="195" y="106.3" fill="#1fa12e" textLength="47.9" lengthAdjust="spacingAndGlyphs">3287.06</text>
<text x="256" y="106.3" fill="#222" textLength="15.8" lengthAdjust="spacingAndGlyphs">收:</text>
<text x="273.6" y="106.3" fill="#1fa12e" textLength="47.8" lengthAdjust="spacingAndGlyphs">3301.53</text>
<text x="18.6" y="124.3" fill="#e0457b" textLength="31.2" lengthAdjust="spacingAndGlyphs">MA5:</text>
<text x="57" y="124.3" fill="#e0457b" textLength="48.3" lengthAdjust="spacingAndGlyphs">3331.49</text>
<text x="117.6" y="124.3" fill="#3fc1d3" textLength="38.8" lengthAdjust="spacingAndGlyphs">MA10:</text>
<text x="164.4" y="124.3" fill="#3fc1d3" textLength="47.5" lengthAdjust="spacingAndGlyphs">3323.30</text>
<text x="225.6" y="124.3" fill="#a85cc4" textLength="38.8" lengthAdjust="spacingAndGlyphs">MA20:</text>
<text x="270.8" y="124.3" fill="#a85cc4" textLength="47.7" lengthAdjust="spacingAndGlyphs">3349.05</text>
<text x="18.5" y="529.4" fill="#1fa12e" textLength="40.2" lengthAdjust="spacingAndGlyphs">MACD:</text>
<text x="60.5" y="529.4" fill="#1fa12e" textLength="35.5" lengthAdjust="spacingAndGlyphs">-13.37</text>
<text x="108.5" y="529.4" fill="#5b9bd5" textLength="28" lengthAdjust="spacingAndGlyphs">DIFF:</text>
<text x="139" y="529.4" fill="#5b9bd5" textLength="23" lengthAdjust="spacingAndGlyphs">1.47</text>
<text x="175" y="529.4" fill="#ed7d31" textLength="26.6" lengthAdjust="spacingAndGlyphs">DEA:</text>
<text x="203.5" y="529.4" fill="#ed7d31" textLength="23.6" lengthAdjust="spacingAndGlyphs">8.15</text>
</g>
</svg>
</body>
</html>
